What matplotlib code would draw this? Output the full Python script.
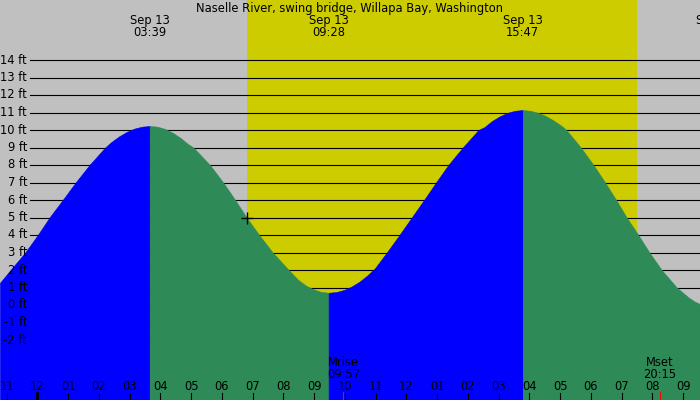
import numpy as np
import matplotlib
matplotlib.use("Agg")
import matplotlib.pyplot as plt

# water level: hours after midnight Sep 13, feet
tide_hours = [-1.22, -0.83, -0.40, 0.01, 0.39, 0.82, 1.24, 1.69, 2.20, 2.40, 2.65, 2.90, 3.15, 3.40, 3.65,
              3.90, 4.15, 4.40, 4.65, 4.90, 5.07, 5.61, 6.04, 6.43, 6.82, 7.21, 7.65, 8.17, 8.47, 8.72,
              8.97, 9.22, 9.467,
              9.72, 9.97, 10.22, 10.47, 10.72, 10.97, 11.36, 11.77, 12.17, 12.57, 12.96, 13.36, 13.83,
              14.34, 14.53, 14.78, 15.03, 15.28, 15.53, 15.783,
              16.03, 16.28, 16.53, 16.78, 17.03, 17.20, 17.67, 18.08, 18.46, 18.82, 19.16, 19.54,
              19.90, 20.30, 20.79, 21.16, 21.35, 21.55]
tide_feet = [1.27, 2.1, 3.0, 4.0, 5.0, 6.0, 7.0, 8.0, 9.0, 9.31, 9.63, 9.89, 10.08, 10.19, 10.23,
             10.19, 10.06, 9.84, 9.55, 9.19, 9.0, 8.0, 7.0, 6.0, 4.95, 4.0, 3.0, 2.0, 1.45, 1.12,
             0.9, 0.75, 0.7,
             0.74, 0.86, 1.06, 1.33, 1.68, 2.09, 3.0, 4.0, 5.0, 6.0, 7.0, 8.0, 9.0,
             10.0, 10.16, 10.51, 10.78, 10.98, 11.10, 11.14,
             11.10, 10.98, 10.8, 10.55, 10.25, 10.0, 9.0, 8.0, 7.0, 6.0, 5.0, 4.0,
             3.0, 2.0, 1.0, 0.45, 0.22, 0.05]

# high / low water events
event_hours = [3.65, 9.467, 15.783, 22.07]
event_labels = ["03:39", "09:28", "15:47", "22:04"]
event_date = "Sep 13"

sunrise, sunset = 6.82, 19.51
moonrise, moonset = 9.95, 20.25
moon_labels = [("Mrise", "09:57"), ("Mset", "20:15")]

hours = list(range(-1, 22))
feet_ticks = list(range(-2, 15))

title = "Naselle River, swing bridge, Willapa Bay, Washington"

W, H = 700, 400
x0, x1 = -1.218, 21.546
px_per_ft = 17.5
y_top = 305 / px_per_ft
y_bot = (305 - H) / px_per_ft

fig = plt.figure(figsize=(7, 4), dpi=100)
ax = fig.add_axes([0, 0, 1, 1])
ax.set_xlim(x0, x1)
ax.set_ylim(y_bot, y_top)
ax.axis("off")
fig.patch.set_facecolor("#c0c0c0")

def yfrac(ypix):
    return 1 - ypix / H

def xdata(xpix):
    return x0 + (x1 - x0) * xpix / W

fnt = dict(family="DejaVu Sans", fontsize=8.3, color="black")

ax.axvspan(sunrise, sunset, color="#cccc00", zorder=0, lw=0)

for f in feet_ticks:
    ax.plot([xdata(30), x1], [f, f], color="black", lw=0.8, zorder=1)
    ax.text(xdata(27), f, f"{f} ft", ha="right", va="center", zorder=4, **fnt)

t = np.array(tide_hours)
h = np.array(tide_feet)
bounds = [t[0]] + [e for e in event_hours if t[0] < e < t[-1]] + [t[-1]]
for a, b in zip(bounds[:-1], bounds[1:]):
    m = (t >= a) & (t <= b)
    rising = h[m][-1] > h[m][0]
    col = "#0000ff" if rising else "#2e8b57"
    ax.fill_between(t[m], h[m], y_bot, facecolor=col, edgecolor=col, lw=0.4, zorder=2)

ax.plot([sunrise], [np.interp(sunrise, t, h)], marker="+", color="black",
        ms=9, mew=1, zorder=5)

tr = ax.get_xaxis_transform()
ax.text(0.5, yfrac(11.7), title, transform=ax.transAxes, ha="center", va="baseline", **fnt)
for e, lab in zip(event_hours, event_labels):
    ax.text(e, yfrac(24), event_date, transform=tr, ha="center", va="baseline", **fnt)
    ax.text(e, yfrac(36), lab, transform=tr, ha="center", va="baseline", **fnt)

for hr in hours:
    ax.text(hr, yfrac(390), f"{(hr % 12) or 12:02d}", transform=tr, ha="center",
            va="baseline", zorder=4, **fnt)
    ax.plot([hr, hr], [yfrac(393), 0], transform=tr, color="black",
            lw=2 if hr % 24 == 0 else 0.8, zorder=4)

for mt, (name, tm) in zip([moonrise, moonset], moon_labels):
    ax.plot([mt, mt], [yfrac(392), 0], transform=tr, color="red", lw=0.8, zorder=4)
    ax.text(mt, yfrac(366.5), name, transform=tr, ha="center", va="baseline", zorder=4, **fnt)
    ax.text(mt, yfrac(378.5), tm, transform=tr, ha="center", va="baseline", zorder=4, **fnt)

fig.savefig("out.png", dpi=100, facecolor=fig.get_facecolor())
